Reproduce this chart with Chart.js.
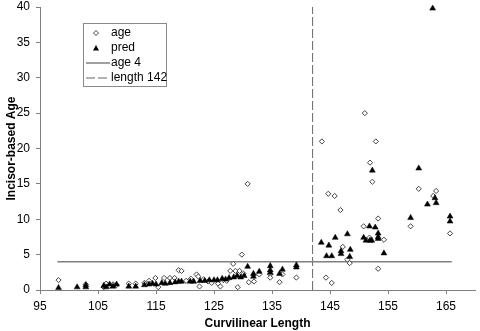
<!DOCTYPE html>
<html>
<head>
<meta charset="utf-8">
<script src="https://cdn.jsdelivr.net/npm/chart.js@4"></script>
<style>
  html, body { margin: 0; padding: 0; background: #fff; }
  #wrap { width: 480px; height: 331px; position: relative; }
</style>
</head>
<body>
<div id="wrap"><canvas id="c" width="480" height="331"></canvas></div>
<script>
// Observed ages by curvilinear length
const ageLen = [98.2, 102.9, 106.0, 106.4, 107.0, 107.6, 108.2, 110.3, 111.5, 113.0, 113.8, 114.9, 115.4,
  116.4, 117.4, 118.2, 118.9, 119.4, 120.2, 121.0, 122.0, 122.3, 122.5, 123.2, 124.0, 124.6, 125.7, 126.1,
  126.6, 127.2, 127.8, 128.3, 128.7, 129.1, 129.4, 129.8, 130.1, 130.8, 131.0, 131.9, 132.8, 134.7, 134.7,
  136.3, 136.8, 139.2, 143.6, 144.3, 144.7, 145.3, 145.8, 146.8, 147.2, 148.0, 148.4, 150.8, 151.0, 151.8,
  151.9, 152.3, 152.9, 153.3, 153.3, 154.3, 158.9, 160.3, 162.8, 163.3, 165.7];
const ageVal = [1.4, 0.8, 0.4, 0.9, 0.6, 0.8, 0.7, 0.9, 0.9, 1.0, 1.3, 1.7, 0.4,
  1.7, 1.7, 1.7, 2.8, 2.7, 1.3, 1.6, 2.2, 1.9, 0.5, 1.5, 1.2, 1.0, 0.9, 0.5,
  1.4, 1.3, 2.7, 3.7, 2.7, 0.4, 2.7, 5.0, 2.3, 15.0, 1.1, 1.2, 2.2, 2.2, 1.75,
  1.1, 2.2, 1.75, 21.0, 1.75, 13.6, 1.0, 13.3, 11.3, 6.1, 4.3, 3.8, 9.0, 25.0, 7.4,
  18.0, 15.3, 21.0, 10.1, 3.0, 7.1, 9.0, 14.3, 13.3, 14.0, 8.0];

// Predicted ages by curvilinear length
const predLen = [98.2, 101.4, 102.9, 102.9, 106.0, 106.4, 107.0, 107.6, 108.2, 110.3, 111.5, 113.0, 113.8,
  114.4, 115.0, 116.0, 116.6, 117.4, 118.3, 118.9, 119.4, 120.9, 121.5, 122.6, 123.4, 124.2, 125.0, 125.6,
  126.4, 127.0, 127.6, 128.4, 129.0, 129.6, 130.2, 130.8, 131.8, 131.8, 132.8, 134.7, 134.7, 134.7, 136.3,
  136.8, 139.2, 139.2, 143.5, 144.4, 144.8, 145.3, 145.9, 146.9, 146.9, 148.0, 148.4, 148.5, 150.8, 151.2,
  151.8, 151.9, 152.2, 152.3, 152.8, 153.3, 153.3, 153.3, 154.3, 158.9, 160.3, 161.8, 162.7, 163.1, 163.3,
  165.7, 165.7];
const predVal = [0.3, 0.4, 0.4, 0.7, 0.6, 0.4, 0.8, 0.5, 0.8, 0.5, 0.5, 0.7, 0.8,
  0.9, 0.8, 1.0, 0.9, 1.0, 1.1, 1.2, 1.2, 1.2, 1.2, 1.3, 1.3, 1.4, 1.4, 1.4,
  1.6, 1.5, 1.7, 1.8, 2.0, 1.8, 2.0, 3.3, 2.3, 1.9, 2.6, 3.4, 2.8, 2.45, 2.3,
  2.9, 3.5, 3.2, 6.7, 4.8, 6.3, 4.8, 7.4, 5.5, 5.1, 7.9, 4.7, 5.7, 7.4, 7.0,
  9.0, 7.0, 7.0, 16.9, 8.85, 8.0, 7.5, 7.25, 5.2, 10.2, 17.2, 12.1, 39.8, 13.0, 12.3,
  10.4, 9.7];

// Reference lines: age 4 across the length range, length 142 across the age range
const ageRef = 4;
const ageRefSpan = [98, 166];
const lengthRef = 142;
const lengthRefSpan = [0, 40];

// Axis ticks
const xTicks = [95, 105, 115, 125, 135, 145, 155, 165];
const yTicks = [0, 5, 10, 15, 20, 25, 30, 35, 40];

const toPoints = (xs, ys) => xs.map((x, i) => ({ x: x, y: ys[i] }));

const FONT = '"Liberation Sans", Arial, sans-serif';
const AXIS_GREY = '#808080';

// Legend entries drawn in a framed box inside the plot area
const legendPlugin = {
  id: 'boxLegend',
  afterDraw(chart) {
    const ctx = chart.ctx;
    const area = chart.chartArea;
    const bx = area.left + 43, by = area.top + 16, bw = 83, bh = 63;
    ctx.save();
    ctx.fillStyle = '#fff';
    ctx.fillRect(bx, by, bw, bh);
    ctx.strokeStyle = '#8a8a8a';
    ctx.lineWidth = 1;
    ctx.strokeRect(bx + 0.5, by + 0.5, bw, bh);

    const rowY = [by + 10, by + 25, by + 40, by + 55];
    const symX = bx + 13;
    const textX = bx + 28;
    ctx.font = '12px ' + FONT;
    ctx.fillStyle = '#000';
    ctx.textBaseline = 'middle';
    ctx.textAlign = 'left';
    const labels = chart.data.datasets.map(d => d.label);

    // age: open diamond
    ctx.beginPath();
    ctx.moveTo(symX, rowY[0] - 2.5);
    ctx.lineTo(symX + 2.5, rowY[0]);
    ctx.lineTo(symX, rowY[0] + 2.5);
    ctx.lineTo(symX - 2.5, rowY[0]);
    ctx.closePath();
    ctx.strokeStyle = '#444';
    ctx.stroke();
    ctx.fillText(labels[0], textX, rowY[0]);

    // pred: filled triangle
    ctx.beginPath();
    ctx.moveTo(symX, rowY[1] - 3);
    ctx.lineTo(symX + 3, rowY[1] + 2.5);
    ctx.lineTo(symX - 3, rowY[1] + 2.5);
    ctx.closePath();
    ctx.fillStyle = '#000';
    ctx.fill();
    ctx.fillText(labels[1], textX, rowY[1]);

    // age 4: solid line
    ctx.strokeStyle = AXIS_GREY;
    ctx.lineWidth = 1.5;
    ctx.beginPath();
    ctx.moveTo(bx + 3, rowY[2]);
    ctx.lineTo(textX - 1, rowY[2]);
    ctx.stroke();
    ctx.fillText(labels[2], textX, rowY[2]);

    // length 142: dashed line
    ctx.strokeStyle = '#666';
    ctx.lineWidth = 1;
    ctx.setLineDash([9, 3]);
    ctx.beginPath();
    ctx.moveTo(bx + 3, rowY[3]);
    ctx.lineTo(textX - 1, rowY[3]);
    ctx.stroke();
    ctx.setLineDash([]);
    ctx.fillText(labels[3], textX, rowY[3]);
    ctx.restore();
  }
};

new Chart(document.getElementById('c'), {
  type: 'scatter',
  data: {
    datasets: [
      {
        label: 'age',
        data: toPoints(ageLen, ageVal),
        pointStyle: 'rectRot',
        radius: 2.6,
        borderWidth: 1,
        borderColor: '#444',
        backgroundColor: '#fff',
        clip: false,
        order: 1
      },
      {
        label: 'pred',
        data: toPoints(predLen, predVal),
        pointStyle: 'triangle',
        radius: 3.4,
        borderWidth: 0.5,
        borderColor: '#000',
        backgroundColor: '#000',
        clip: false,
        order: 0
      },
      {
        label: 'age ' + ageRef,
        type: 'line',
        data: ageRefSpan.map(x => ({ x: x, y: ageRef })),
        borderColor: AXIS_GREY,
        borderWidth: 1.5,
        pointRadius: 0,
        order: 2
      },
      {
        label: 'length ' + lengthRef,
        type: 'line',
        data: lengthRefSpan.map(y => ({ x: lengthRef, y: y })),
        borderColor: '#666',
        borderWidth: 1,
        borderDash: [9, 3],
        pointRadius: 0,
        order: 3
      }
    ]
  },
  options: {
    responsive: false,
    animation: false,
    layout: { padding: { top: 7, right: 1, left: 2, bottom: 0 } },
    plugins: {
      legend: { display: false },
      tooltip: { enabled: false }
    },
    scales: {
      x: {
        type: 'linear',
        min: 95,
        max: 170,
        afterBuildTicks: s => { s.ticks = xTicks.map(v => ({ value: v })); },
        grid: { drawOnChartArea: false, drawTicks: true, tickLength: 4, color: AXIS_GREY },
        border: { display: true, color: AXIS_GREY, width: 1 },
        ticks: { font: { family: FONT, size: 12 }, color: '#000', padding: 5, maxRotation: 0 },
        title: {
          display: true,
          text: 'Curvilinear Length',
          font: { family: FONT, size: 12, weight: 'bold' },
          color: '#000',
          padding: { top: 5, bottom: 0 }
        },
        afterFit: s => { s.height = 41; s.paddingLeft = 0; s.paddingRight = 0; }
      },
      y: {
        type: 'linear',
        min: 0,
        max: 40,
        afterBuildTicks: s => { s.ticks = yTicks.map(v => ({ value: v })); },
        grid: { drawOnChartArea: false, drawTicks: true, tickLength: 4, color: AXIS_GREY },
        border: { display: true, color: AXIS_GREY, width: 1 },
        ticks: { font: { family: FONT, size: 12 }, color: '#000', padding: 6 },
        title: {
          display: true,
          text: 'Incisor-based Age',
          font: { family: FONT, size: 12, weight: 'bold' },
          color: '#000',
          padding: { top: 2, bottom: 0 }
        },
        afterFit: s => { s.width = 38; s.paddingTop = 0; s.paddingBottom = 0; }
      }
    }
  },
  plugins: [legendPlugin]
});
</script>
</body>
</html>
